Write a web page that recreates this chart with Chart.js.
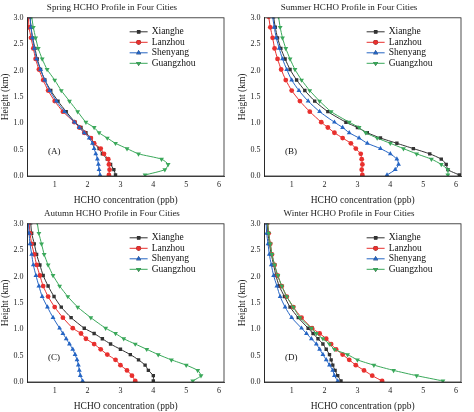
<!DOCTYPE html>
<html>
<head>
<meta charset="utf-8">
<script src="https://cdn.jsdelivr.net/npm/chart.js@4"></script>
<style>
  body { margin: 0; background: #fff; }
  #grid { display: grid; grid-template-columns: 237px 237px; grid-template-rows: 206px 206px; }
  .cell { position: relative; width: 237px; height: 206px; }
</style>
</head>
<body>
<div id="grid">
  <div class="cell"><canvas id="c0"></canvas></div>
  <div class="cell"><canvas id="c1"></canvas></div>
  <div class="cell"><canvas id="c2"></canvas></div>
  <div class="cell"><canvas id="c3"></canvas></div>
</div>
<script>
// Heights (km), bottom to top
const heights = [0.02, 0.12, 0.22, 0.32, 0.42, 0.52, 0.62, 0.72, 0.82, 0.92, 1.02,
  1.22, 1.42, 1.62, 1.82, 2.02, 2.22, 2.42, 2.62, 2.82, 3.02];

const cities = ['Xianghe', 'Lanzhou', 'Shenyang', 'Guangzhou'];
const panelTitles = ['Spring HCHO Profile in Four Cities', 'Summer HCHO Profile in Four Cities',
  'Autumn HCHO Profile in Four Cities', 'Winter HCHO Profile in Four Cities'];
const panelLabels = ['(A)', '(B)', '(C)', '(D)'];
const xTicks = [1, 2, 3, 4, 5, 6];
const yTicks = [0.0, 0.5, 1.0, 1.5, 2.0, 2.5, 3.0];

// HCHO concentration (ppb) per season, per city
const springXianghe = [2.85, 2.8, 2.7, 2.6, 2.45, 2.35, 2.2, 2.1, 1.95, 1.8, 1.62, 1.35, 1.1, 0.88, 0.7, 0.57, 0.47, 0.4, 0.33, 0.28, 0.25];
const springLanzhou = [2.65, 2.67, 2.65, 2.63, 2.5, 2.4, 2.2, 2.1, 1.9, 1.75, 1.6, 1.25, 1.0, 0.8, 0.65, 0.52, 0.42, 0.35, 0.28, 0.22, 0.2];
const springShenyang = [2.38, 2.35, 2.33, 2.3, 2.25, 2.2, 2.15, 2.05, 1.9, 1.75, 1.6, 1.3, 1.05, 0.85, 0.7, 0.57, 0.45, 0.38, 0.32, 0.28, 0.25];
const springGuangzhou = [3.75, 4.35, 4.45, 4.25, 3.55, 3.2, 2.85, 2.6, 2.35, 2.2, 1.95, 1.7, 1.45, 1.2, 1.0, 0.77, 0.62, 0.5, 0.42, 0.35, 0.3];

const summerXianghe = [6.1, 5.75, 5.7, 5.55, 5.2, 4.7, 4.2, 3.7, 3.3, 3.0, 2.65, 2.1, 1.7, 1.4, 1.15, 0.95, 0.8, 0.67, 0.57, 0.5, 0.45];
const summerLanzhou = [3.15, 3.13, 3.15, 3.13, 3.1, 2.95, 2.8, 2.55, 2.3, 2.1, 1.9, 1.55, 1.25, 1.0, 0.82, 0.68, 0.57, 0.48, 0.42, 0.35, 0.3];
const summerShenyang = [3.9, 4.15, 4.25, 4.2, 4.0, 3.7, 3.3, 3.05, 2.75, 2.55, 2.3, 1.85, 1.5, 1.22, 1.0, 0.85, 0.72, 0.62, 0.53, 0.47, 0.42];
const summerGuangzhou = [5.75, 5.75, 5.55, 5.25, 4.8, 4.4, 4.0, 3.6, 3.25, 3.05, 2.75, 2.2, 1.85, 1.55, 1.3, 1.1, 0.95, 0.82, 0.72, 0.65, 0.6];

const autumnXianghe = [4.0, 4.0, 3.85, 3.75, 3.55, 3.3, 3.0, 2.7, 2.45, 2.2, 1.9, 1.5, 1.2, 0.98, 0.8, 0.65, 0.55, 0.45, 0.38, 0.3, 0.27];
const autumnLanzhou = [3.45, 3.35, 3.2, 3.0, 2.85, 2.6, 2.4, 2.2, 1.95, 1.8, 1.55, 1.25, 1.0, 0.8, 0.65, 0.55, 0.45, 0.38, 0.3, 0.25, 0.22];
const autumnShenyang = [1.85, 1.78, 1.75, 1.72, 1.68, 1.62, 1.55, 1.45, 1.35, 1.25, 1.15, 0.95, 0.78, 0.62, 0.52, 0.43, 0.35, 0.3, 0.25, 0.22, 0.2];
const autumnGuangzhou = [5.2, 5.45, 5.35, 5.0, 4.55, 4.15, 3.8, 3.45, 3.1, 2.85, 2.55, 2.1, 1.7, 1.4, 1.15, 0.95, 0.8, 0.68, 0.6, 0.52, 0.47];

const winterXianghe = [2.5, 2.4, 2.32, 2.25, 2.2, 2.15, 2.05, 1.95, 1.8, 1.65, 1.5, 1.2, 0.95, 0.78, 0.62, 0.52, 0.45, 0.38, 0.32, 0.28, 0.25];
const winterLanzhou = [3.75, 3.45, 3.2, 2.95, 2.75, 2.55, 2.35, 2.2, 2.05, 1.85, 1.62, 1.3, 1.05, 0.85, 0.7, 0.57, 0.48, 0.4, 0.35, 0.3, 0.27];
const winterShenyang = [2.4, 2.3, 2.25, 2.15, 2.05, 1.95, 1.85, 1.75, 1.6, 1.45, 1.3, 1.0, 0.8, 0.65, 0.55, 0.45, 0.38, 0.32, 0.28, 0.24, 0.22];
const winterGuangzhou = [5.6, 4.8, 4.1, 3.5, 3.0, 2.7, 2.3, 2.15, 1.95, 1.75, 1.6, 1.25, 1.05, 0.85, 0.7, 0.58, 0.48, 0.4, 0.35, 0.3, 0.27];

const seasons = [
  [springXianghe, springLanzhou, springShenyang, springGuangzhou],
  [summerXianghe, summerLanzhou, summerShenyang, summerGuangzhou],
  [autumnXianghe, autumnLanzhou, autumnShenyang, autumnGuangzhou],
  [winterXianghe, winterLanzhou, winterShenyang, winterGuangzhou]
];

const colors = ['#333333', '#e8302e', '#2565c4', '#3aa85a'];
const markers = [
  { style: 'rect', rotation: 0, radius: 2.4 },
  { style: 'circle', rotation: 0, radius: 2.4 },
  { style: 'triangle', rotation: 0, radius: 2.8 },
  { style: 'triangle', rotation: 180, radius: 2.8 }
];
const FONT = '"Liberation Serif", "DejaVu Serif", serif';

// Frame, legend box and panel label drawn on top
const decorPlugin = {
  id: 'decor',
  afterDraw(chart) {
    const { ctx, chartArea: a } = chart;
    const idx = chart.options.plugins.decor.index;
    ctx.save();
    ctx.strokeStyle = '#222';
    ctx.lineWidth = 0.8;
    ctx.strokeRect(a.left, a.top, a.right - a.left, a.bottom - a.top);

    // legend
    ctx.font = '9.5px ' + FONT;
    ctx.textBaseline = 'middle';
    const lx = a.left + (a.right - a.left) * 0.52;
    cities.forEach((name, i) => {
      const y = a.top + 14 + i * 10.5;
      ctx.strokeStyle = colors[i];
      ctx.lineWidth = 1;
      ctx.beginPath();
      ctx.moveTo(lx, y);
      ctx.lineTo(lx + 18, y);
      ctx.stroke();
      Chart.helpers.drawPoint(ctx, {
        pointStyle: markers[i].style, rotation: markers[i].rotation,
        radius: markers[i].radius, borderWidth: 0
      }, lx + 9, y);
      ctx.fillStyle = colors[i];
      ctx.fill();
      ctx.fillStyle = '#111';
      ctx.fillText(name, lx + 22, y);
    });

    // panel label
    ctx.font = '9px ' + FONT;
    ctx.fillStyle = '#111';
    ctx.fillText(panelLabels[idx], chart.scales.x.getPixelForValue(0.8), chart.scales.y.getPixelForValue(0.47));
    ctx.restore();
  }
};

seasons.forEach((series, idx) => {
  const datasets = series.map((vals, i) => ({
    label: cities[i],
    data: vals.map((v, k) => ({ x: v, y: heights[k] })),
    showLine: true,
    borderColor: colors[i],
    backgroundColor: colors[i],
    borderWidth: 1,
    pointStyle: markers[i].style,
    rotation: markers[i].rotation,
    pointRadius: markers[i].radius,
    pointBorderWidth: 0,
    tension: 0.2,
    order: 4 - i
  }));

  new Chart(document.getElementById('c' + idx), {
    type: 'scatter',
    data: { datasets },
    plugins: [decorPlugin],
    options: {
      responsive: true,
      maintainAspectRatio: false,
      animation: false,
      clip: { left: 0, right: 0, top: 0, bottom: 0 },
      layout: { padding: { left: 0, right: 13, top: 2, bottom: 0 } },
      plugins: {
        legend: { display: false },
        tooltip: { enabled: false },
        decor: { index: idx },
        title: {
          display: true, text: panelTitles[idx], color: '#222',
          font: { family: FONT, size: 9, weight: 'normal' },
          padding: { top: 0, bottom: 5 }
        }
      },
      scales: {
        x: {
          type: 'linear', min: 0.17, max: 6.15,
          afterBuildTicks: s => { s.ticks = xTicks.map(v => ({ value: v })); },
          grid: { display: false, drawTicks: true, tickLength: 3 },
          border: { color: '#222', width: 0.8 },
          ticks: { color: '#222', font: { family: FONT, size: 8 }, padding: 1, maxRotation: 0 },
          title: {
            display: true, text: 'HCHO concentration (ppb)', color: '#222',
            font: { family: FONT, size: 9.5 }, padding: { top: 4, bottom: 0 }
          }
        },
        y: {
          type: 'linear', min: 0, max: 3,
          afterBuildTicks: s => { s.ticks = yTicks.map(v => ({ value: v })); },
          grid: { display: false, drawTicks: true, tickLength: 3 },
          border: { color: '#222', width: 0.8 },
          ticks: { color: '#222', font: { family: FONT, size: 8 }, padding: 1, callback: v => v.toFixed(1) },
          title: {
            display: true, text: 'Height (km)', color: '#222',
            font: { family: FONT, size: 9.5 }, padding: { top: 0, bottom: 1 }
          }
        }
      }
    }
  });
});
</script>
</body>
</html>
